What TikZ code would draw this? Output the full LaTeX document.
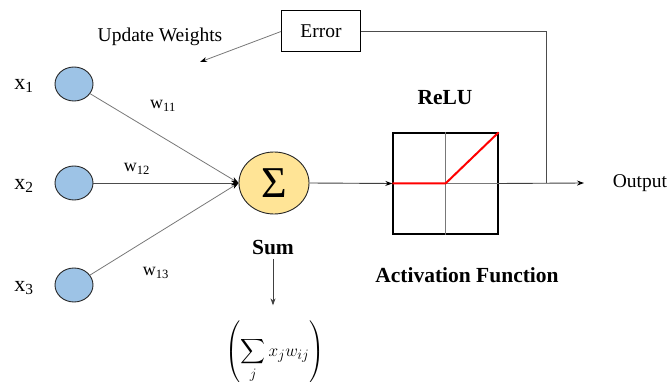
\documentclass[tikz,border=0pt]{standalone}
\usepackage{fontspec}
\setmainfont{Liberation Serif}
\usepackage{amsmath}
\usetikzlibrary{arrows.meta,shapes.geometric}
\definecolor{inputblue}{RGB}{157,195,230}
\definecolor{sumyellow}{RGB}{255,228,150}
\definecolor{linegray}{RGB}{120,120,120}

\begin{document}
\begin{tikzpicture}[x=1pt, y=-1pt,
    every node/.style={font=\fontsize{19.5}{22}\selectfont},
    input/.style={ellipse, draw=black!85, fill=inputblue, line width=0.9pt, minimum width=38pt, minimum height=34pt, inner sep=0pt},
    neuron/.style={ellipse, draw=black!85, fill=sumyellow, line width=0.9pt, minimum width=70pt, minimum height=62pt, inner sep=0pt},
    label/.style={font=\fontsize{21.5}{24}\selectfont\bfseries},
    weight/.style={font=\fontsize{18}{20}\selectfont},
    link/.style={draw=linegray, line width=0.8pt, -{Stealth[length=7pt, width=5pt, color=black]}},
    flow/.style={draw=black!75, line width=0.9pt, -{Stealth[length=7pt, width=5pt, color=black]}}
]

% Frame
\useasboundingbox (0,0) rectangle (670,382);

% Inputs
\node[input] (in1) at (74,84) {};
\node[input] (in2) at (74,183) {};
\node[input] (in3) at (74,285) {};

\node (x1) at (24,86) {\fontsize{22}{24}\selectfont x\textsubscript{1}};
\node (x2) at (24,186) {\fontsize{22}{24}\selectfont x\textsubscript{2}};
\node (x3) at (24,288) {\fontsize{22}{24}\selectfont x\textsubscript{3}};

% Summation
\node[neuron] (sum) at (274,183) {\fontsize{44}{44}\selectfont Σ};
\node[label] (sumlbl) at (273,248) {Sum};
\node (formula) at (275,352) {\fontsize{19}{22}\selectfont $\displaystyle\left(\sum_{j} x_j w_{ij}\right)$};

% Weighted inputs
\draw[link] (in1) -- (sum.west);
\draw[link, draw=black!70] (in2) -- (sum.west);
\draw[link] (in3) -- (sum.west);

\node[weight] (w11) at (163,106) {w\textsubscript{11}};
\node[weight] (w12) at (137,169) {w\textsubscript{12}};
\node[weight] (w13) at (156,273) {w\textsubscript{13}};

\draw[draw=black!75, line width=0.9pt, -{Stealth[length=7pt, width=5pt]}, shorten >=12pt] (sumlbl.south) -- (sumlbl.south |- formula.north);

% Activation
\node[draw, line width=1.3pt, minimum width=105pt, minimum height=101pt, inner sep=0pt] (relu) at (445.5,183.5) {};
\draw[linegray, line width=1pt] (relu.north) -- (relu.south);
\draw[linegray, line width=1pt] (relu.center) -- (relu.east);
\draw[red, line width=2pt, line join=round] (relu.west) -- (relu.center) -- (relu.north east);
\node[label] (relulbl) at (445,98) {ReLU};
\node[label] (actlbl) at (467,275) {Activation Function};

\draw[flow] (sum.east) -- (relu.west);

% Output
\node (out) at (640,183) {Output};
\coordinate (outtip) at (584,183);
\draw[flow] (relu.east) -- (outtip);

% Feedback
\node[draw, line width=1pt, minimum width=79pt, minimum height=41pt] (err) at (321,31.5) {Error};
\coordinate (tap) at (546,183);
\draw[draw=black!70, line width=0.9pt] (tap) |- (err.east);
\coordinate (upd) at (200,62);
\draw[link] (err.west) -- (upd);
\node (updlbl) at (160,37) {Update Weights};

\end{tikzpicture}
\end{document}
